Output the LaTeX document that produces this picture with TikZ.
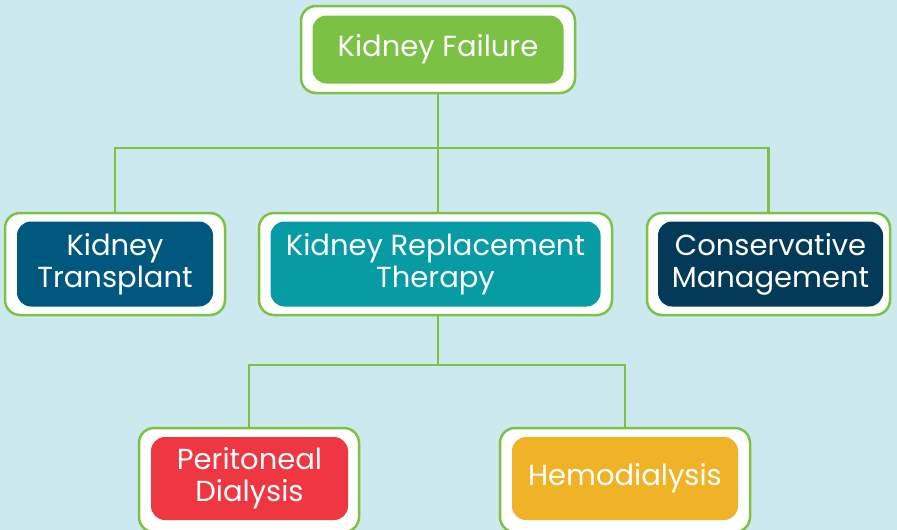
\documentclass[tikz,border=0pt]{standalone}
\usepackage{fontspec}
\setmainfont{Poppins}
\definecolor{bgblue}{HTML}{CBE9EE}
\definecolor{leafgreen}{HTML}{7DC242}
\definecolor{kfgreen}{HTML}{7BC144}
\definecolor{ktblue}{HTML}{01587F}
\definecolor{krtteal}{HTML}{079BA4}
\definecolor{cmnavy}{HTML}{033A57}
\definecolor{pdred}{HTML}{EF3742}
\definecolor{hdgold}{HTML}{F0B327}
\begin{document}
\begin{tikzpicture}[x=1pt, y=-1pt,
    outerbox/.style={draw=leafgreen, line width=2.5pt, fill=white, rounded corners=15pt, minimum height=102pt},
    innerbox/.style={rounded corners=14pt, minimum height=85pt, text=white, align=center,
        font=\fontsize{29}{32}\selectfont},
    link/.style={leafgreen, line width=2.2pt}]
    % Background
    \fill[bgblue] (0,0) rectangle (897,530);
    \useasboundingbox (0,0) rectangle (897,530);

    % Outer frames
    \node[outerbox, minimum width=274pt, minimum height=87pt] (kfo) at (438,49.5) {};
    \node[outerbox, minimum width=220pt] (kto) at (115,264) {};
    \node[outerbox, minimum width=353pt] (krto) at (435.5,264) {};
    \node[outerbox, minimum width=243pt] (cmo) at (768.5,264) {};
    \node[outerbox, minimum width=220pt, minimum height=104pt] (pdo) at (249,480) {};
    \node[outerbox, minimum width=250pt, minimum height=104pt] (hdo) at (625,480) {};

    % Inner boxes
    \node[innerbox, fill=kfgreen, minimum width=251pt, minimum height=68pt] (kf) at (kfo) {Kidney Failure};
    \node[innerbox, fill=ktblue, minimum width=196pt] (kt) at (kto) {Kidney\\Transplant};
    \node[innerbox, fill=krtteal, minimum width=330pt] (krt) at (krto) {Kidney Replacement\\Therapy};
    \node[innerbox, fill=cmnavy, minimum width=225pt] (cm) at (770.5,264) {Conservative\\Management};
    \node[innerbox, fill=pdred, minimum width=197pt, minimum height=83pt] (pd) at (249.5,478.5) {Peritoneal\\Dialysis};
    \node[innerbox, fill=hdgold, minimum width=226pt, minimum height=83pt] (hd) at (625,478.5) {Hemodialysis};

    % Connectors
    \coordinate (top) at (438,148);
    \coordinate (mid) at (438,365);
    \draw[link] (kfo.south) -- (top);
    \draw[link] (top) -| (kto.north);
    \draw[link] (top) -| (cmo.north);
    \draw[link] (top) -- (top |- krto.north);
    \draw[link] (krto.south -| mid) -- (mid);
    \draw[link] (mid) -| (pdo.north);
    \draw[link] (mid) -| (hdo.north);
\end{tikzpicture}
\end{document}
